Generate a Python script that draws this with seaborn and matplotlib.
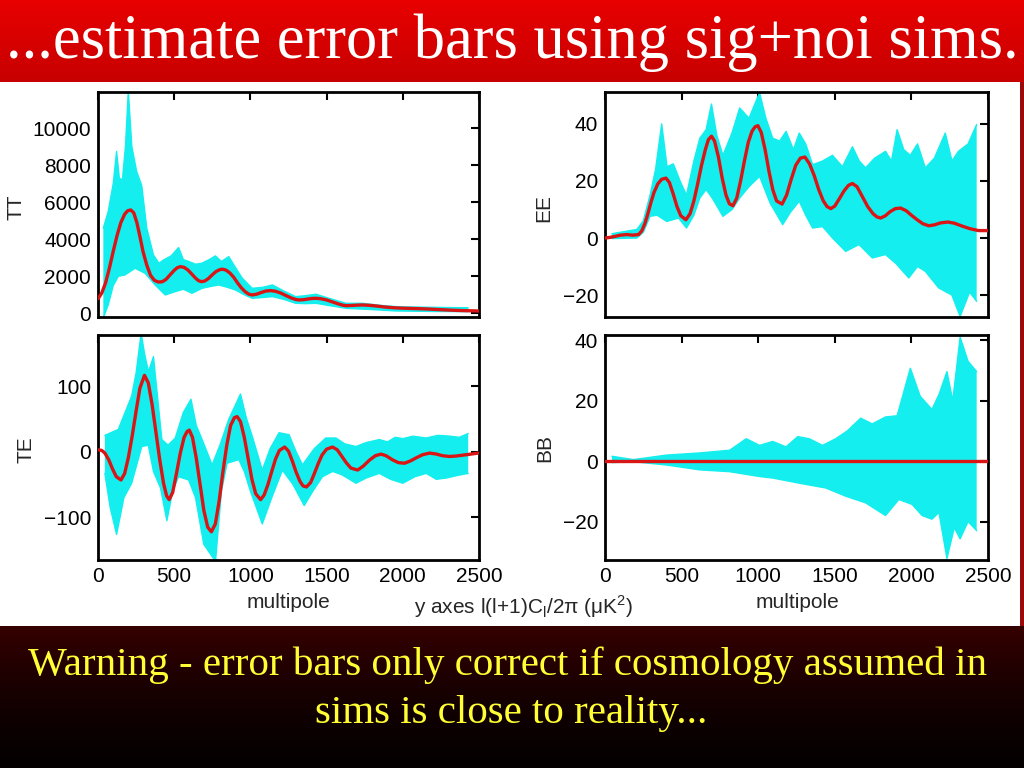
import numpy as np
import pandas as pd
import matplotlib
matplotlib.use("Agg")
import matplotlib.pyplot as plt
import seaborn as sns

# ---------------- data ----------------
TITLE = "...estimate error bars using sig+noi sims."
FOOT1 = "Warning - error bars only correct if cosmology assumed in"
FOOT2 = "sims is close to reality..."

# TT mean (red)
tt_mean_ell = [2, 25, 50, 75, 100, 125, 150, 175, 195, 215, 235, 255, 275, 295, 320, 345, 370, 395,
               420, 445, 470, 500, 520, 540, 565, 590, 615, 640, 660, 678, 700, 725, 750, 775, 800,
               818, 840, 865, 890, 915, 940, 965, 990, 1012, 1040, 1070, 1100, 1133, 1165, 1200,
               1235, 1270, 1300, 1319, 1350, 1380, 1410, 1430, 1460, 1500, 1540, 1580, 1610, 1627,
               1660, 1700, 1737, 1780, 1830, 1880, 1940, 2000, 2060, 2120, 2180, 2240, 2300, 2360,
               2420, 2500]
tt_mean = [800, 1100, 1650, 2450, 3350, 4200, 4900, 5350, 5540, 5580, 5420, 4900, 4150, 3350, 2600,
           2050, 1780, 1690, 1700, 1820, 2050, 2320, 2460, 2520, 2480, 2340, 2120, 1900, 1760, 1710,
           1740, 1880, 2080, 2260, 2360, 2380, 2330, 2180, 1950, 1650, 1380, 1170, 1030, 990, 1030,
           1120, 1200, 1225, 1190, 1090, 950, 820, 740, 720, 735, 775, 805, 810, 790, 720, 610, 500,
           430, 415, 420, 440, 450, 430, 390, 340, 300, 275, 260, 245, 225, 200, 175, 155, 140, 125]
# TT simulation envelope (cyan)
tt_hi_ell = [35, 67, 100, 122, 140, 160, 180, 199, 222, 254, 287, 320, 364, 400, 430, 480, 529, 560,
             595, 640, 680, 730, 770, 810, 858, 900, 946, 1012, 1080, 1145, 1220, 1297, 1360,
             1430, 1520, 1627, 1737, 1850, 1957, 2070, 2176, 2300, 2429]
tt_hi = [4600, 5500, 7000, 8740, 7300, 7200, 9000, 12000, 9000, 7650, 6900, 4600, 3150, 2700, 2880,
         3100, 3550, 2900, 2800, 2650, 2700, 2900, 3100, 2800, 3060, 2500, 1900, 1350, 1400, 1530,
         1200, 900, 950, 1030, 800, 540, 540, 430, 360, 340, 325, 310, 300]
tt_lo_ell = [35, 67, 100, 134, 177, 243, 309, 375, 441, 507, 560, 617, 683, 740, 792, 850, 902,
             960, 1012, 1080, 1145, 1220, 1297, 1360, 1430, 1530, 1627, 1800, 1957, 2200, 2429]
tt_lo = [-250, 450, 1500, 2000, 2070, 2430, 2160, 1530, 990, 1170, 1300, 1080, 1350, 1450, 1530,
         1400, 1260, 1000, 810, 850, 900, 750, 540, 520, 540, 400, 270, 200, 125, 100, 90]

# EE
ee_mean_ell = [0, 30, 60, 100, 143, 180, 219, 240, 260, 280, 300, 320, 345, 370, 398, 420, 445,
               470, 495, 528, 555, 580, 605, 630, 655, 675, 695, 715, 740, 765, 790, 812, 835, 860,
               885, 910, 935, 960, 980, 998, 1020, 1045, 1070, 1095, 1120, 1156, 1185, 1215, 1245,
               1275, 1305, 1335, 1365, 1395, 1425, 1450, 1474, 1500, 1530, 1560, 1590, 1615, 1645,
               1680, 1715, 1750, 1775, 1799, 1830, 1860, 1895, 1929, 1965, 2000, 2040, 2075, 2113,
               2150, 2190, 2238, 2280, 2330, 2380, 2437, 2500]
ee_mean = [0, 0.2, 0.5, 1.0, 1.2, 1.0, 1.2, 2.5, 5, 8.5, 12.5, 16, 19, 20.6, 21, 19.5, 15.5, 11,
           7.8, 6.4, 8.5, 13, 19, 25.5, 31, 34.5, 35.7, 34, 28.5, 21, 15, 12, 11.3, 14, 20, 27,
           33.5, 37.5, 39, 39.4, 37, 31, 23.5, 17, 13, 11.9, 15, 20.5, 25.5, 28, 28.4, 26, 22,
           17, 13, 11, 10.3, 11.2, 13.8, 16.5, 18.5, 19.1, 18, 14.5, 11, 8.5, 7.4, 7.0, 7.8, 9.2,
           10.3, 10.5, 9.6, 8.0, 6.3, 5, 4.3, 4.6, 5.3, 5.6, 5.2, 4.2, 3.3, 2.6, 2.6]
ee_hi_ell = [45, 208, 250, 294, 330, 370, 405, 446, 490, 532, 580, 619, 660, 695, 730, 770, 830,
             879, 940, 1009, 1050, 1095, 1140, 1182, 1230, 1268, 1310, 1355, 1420, 1485, 1550,
             1615, 1660, 1701, 1760, 1831, 1870, 1907, 1950, 1993, 2040, 2091, 2150, 2221, 2265,
             2307, 2370, 2426]
ee_hi = [1.5, 3, 6, 15, 24, 40, 25, 26, 20, 15, 27, 35, 38, 47, 36, 29, 37, 45.6, 42, 51, 42, 35,
         34, 37.4, 31, 36.8, 33, 25.7, 27, 29, 25, 32, 27, 24.6, 28, 30.4, 27, 38, 31, 29, 33,
         24.6, 28, 36.8, 27, 30.4, 33, 39.8]
ee_lo_ell = [45, 208, 250, 294, 340, 403, 480, 532, 580, 619, 660, 700, 770, 830, 879, 940, 1009,
             1080, 1160, 1210, 1268, 1310, 1355, 1420, 1485, 1571, 1658, 1745, 1831, 1900, 1983,
             2040, 2091, 2178, 2264, 2318, 2380, 2426]
ee_lo = [-0.2, 0, 2, 7.6, 8, 5.8, 7, 3.5, 8, 14, 17, 14, 7.6, 10, 14, 18, 21.6, 12, 4.7, 9, 12.9,
         8, 3.5, 4, 0, -4.7, -2.3, -7, -5.8, -9, -14, -10, -11.7, -17.5, -20, -27.5, -19, -22.2]

# TE
te_mean_ell = [0, 25, 45, 70, 95, 120, 151, 175, 200, 225, 250, 275, 305, 330, 355, 380, 405, 430,
               450, 467, 490, 515, 540, 565, 585, 599, 620, 645, 670, 695, 720, 744, 770, 795, 820,
               845, 870, 895, 913, 935, 960, 985, 1010, 1035, 1067, 1090, 1115, 1140, 1165, 1190,
               1225, 1250, 1275, 1300, 1325, 1345, 1368, 1395, 1420, 1445, 1470, 1500, 1539, 1570,
               1600, 1630, 1660, 1704, 1740, 1780, 1820, 1857, 1890, 1930, 1970, 2011, 2050, 2090,
               2130, 2176, 2220, 2260, 2307, 2350, 2400, 2450, 2494]
te_mean = [3, 2, -2, -12, -26, -38, -43, -33, -8, 25, 62, 97, 116.5, 105, 72, 30, -12, -48, -67,
           -73, -62, -33, -2, 22, 31, 33, 22, -10, -50, -90, -115, -122, -110, -75, -30, 10, 40,
           52, 53.6, 46, 22, -10, -42, -64, -73, -66, -50, -30, -11, 2, 7.2, 1, -14, -31, -45,
           -52, -53.6, -47, -33, -18, -5, 4, 7.2, 3, -7, -17, -25, -27.8, -22, -13, -6, -3.6, -6,
           -12, -16.5, -17.5, -14, -9, -4.5, -2, -3.5, -6, -7.2, -6.5, -5, -3.5, -2]
te_hi_ell = [45, 133, 221, 250, 283, 305, 331, 364, 419, 460, 507, 560, 610, 645, 683, 749, 800,
             858, 935, 975, 1012, 1078, 1130, 1188, 1254, 1300, 1342, 1420, 1495, 1561, 1620,
             1693, 1760, 1846, 1900, 1950, 2000, 2066, 2154, 2230, 2300, 2370, 2429]
te_hi = [25, 34, 85, 120, 181, 150, 122, 145, 18.6, 10, 21, 60, 80, 40, 18.6, -20, 10, 49.5, 88,
         50, 23.7, -28, 5, 29, 26, 0, -20, 5, 21, 21, 12, 8, 14, 18.6, 15, 22, 20, 23.7, 21, 25,
         24, 22, 27.8]
te_lo_ell = [45, 80, 122, 170, 221, 287, 330, 364, 410, 452, 490, 529, 595, 640, 694, 771, 810,
             847, 924, 960, 1000, 1078, 1140, 1210, 1280, 1353, 1410, 1473, 1540, 1600, 1693, 1760,
             1846, 1920, 2000, 2080, 2154, 2220, 2286, 2360, 2429]
te_lo = [-33, -85, -126, -70, -48, 8, 10, -30, -55, -105, -60, -38, -43, -70, -141, -167, -60,
         -17.5, -12, -30, -60, -110, -70, -28, -50, -82, -60, -38, -30, -35, -48, -40, -33, -42,
         -48, -38, -33, -42, -40, -36, -33]

# BB
bb_mean_ell = [0, 2500]
bb_mean = [0, 0]
bb_hi_ell = [45, 186, 403, 619, 814, 922, 1009, 1095, 1182, 1258, 1333, 1420, 1506, 1582, 1669,
             1745, 1831, 1907, 1993, 2058, 2134, 2180, 2232, 2270, 2318, 2370, 2426]
bb_hi = [1.6, 0.5, 2, 2.7, 3.6, 7.4, 5.2, 6.5, 4.7, 8.1, 7.4, 5.2, 7.4, 10, 14.2, 12.3, 14.6,
         15, 30.7, 21.4, 17.1, 22, 29.6, 20, 41, 33, 29.6]
bb_lo_ell = [45, 186, 403, 619, 814, 1009, 1095, 1268, 1442, 1571, 1701, 1831, 1918, 2004, 2070,
             2134, 2180, 2232, 2280, 2318, 2370, 2426]
bb_lo = [-0.5, -0.2, -1.3, -2.9, -3.5, -5.1, -5.6, -7.3, -8.9, -11.6, -13.8, -18, -12.7, -14.3,
         -18, -19.2, -17, -32.2, -22, -25.7, -20, -23]

x_ticks = [0, 500, 1000, 1500, 2000, 2500]
panels = {
    "TT": dict(mean=(tt_mean_ell, tt_mean), hi=(tt_hi_ell, tt_hi), lo=(tt_lo_ell, tt_lo),
               ylim=(-200, 11950), yticks=[0, 2000, 4000, 6000, 8000, 10000]),
    "EE": dict(mean=(ee_mean_ell, ee_mean), hi=(ee_hi_ell, ee_hi), lo=(ee_lo_ell, ee_lo),
               ylim=(-27.7, 51.2), yticks=[-20, 0, 20, 40]),
    "TE": dict(mean=(te_mean_ell, te_mean), hi=(te_hi_ell, te_hi), lo=(te_lo_ell, te_lo),
               ylim=(-165, 178), yticks=[-100, 0, 100]),
    "BB": dict(mean=(bb_mean_ell, bb_mean), hi=(bb_hi_ell, bb_hi), lo=(bb_lo_ell, bb_lo),
               ylim=(-32.7, 41.7), yticks=[-20, 0, 20, 40]),
}

# ---------------- style ----------------
sns.set_theme(style="white")
plt.rcParams['font.family'] = ['Liberation Sans', 'DejaVu Sans']
plt.rcParams['axes.unicode_minus'] = True

W, H = 1024, 768
fig = plt.figure(figsize=(W / 100, H / 100), dpi=100)
fig.patch.set_facecolor("white")

# background bands
bg = fig.add_axes([0, 0, 1, 1], zorder=-5)
bg.set_xlim(0, W)
bg.set_ylim(H, 0)
bg.axis("off")
top_grad = np.linspace(0, 1, 64)[:, None]
top_rgb = np.zeros((64, 2, 3))
top_rgb[..., 0] = (0.91 - 0.13 * top_grad)
bg.imshow(top_rgb, extent=(0, W, 82, 0), aspect="auto", interpolation="bilinear")
bot_grad = np.linspace(0, 1, 64)[:, None]
bot_rgb = np.zeros((64, 2, 3))
bot_rgb[..., 0] = 0.19 * (1 - bot_grad) ** 1.5 + 0.02
bg.imshow(bot_rgb, extent=(0, W, H, 626), aspect="auto", interpolation="bilinear")
bg.add_patch(plt.Rectangle((1020, 82), 4, 544, color="#9a0a0a", lw=0))

CYAN = "#14EEEE"
RED = "#DA1515"

def px_axes(x0, y0, x1, y1):
    return fig.add_axes([x0 / W, 1 - y1 / H, (x1 - x0) / W, (y1 - y0) / H])

boxes = {"TT": (98, 92, 479, 317), "EE": (605, 92, 988, 317),
         "TE": (98, 335, 479, 560), "BB": (605, 335, 988, 560)}

for name, p in panels.items():
    ax = px_axes(*boxes[name])
    hx, hy = p["hi"]
    lx, ly = p["lo"]
    ax.fill(list(hx) + list(lx)[::-1], list(hy) + list(ly)[::-1], color=CYAN, lw=0, zorder=1)
    sns.lineplot(x=hx, y=hy, ax=ax, color=CYAN, lw=1.0, estimator=None, sort=False, zorder=2)
    sns.lineplot(x=lx, y=ly, ax=ax, color=CYAN, lw=1.0, estimator=None, sort=False, zorder=2)
    mx, my = p["mean"]
    sns.lineplot(x=mx, y=my, ax=ax, color=RED, lw=2.4, estimator=None, sort=False, zorder=3)
    ax.set_xlim(0, 2500)
    ax.set_ylim(*p["ylim"])
    ax.set_xticks(x_ticks)
    ax.set_yticks(p["yticks"])
    ax.set_xlabel("")
    ax.set_ylabel("")
    ax.tick_params(direction="in", length=6, width=1.5, top=True, right=True,
                   labelsize=15, pad=5, colors="black")
    if name in ("TT", "EE"):
        ax.set_xticklabels([])
    for s in ax.spines.values():
        s.set_linewidth(2)
        s.set_color("black")
    ax.set_facecolor("white")

def ftext(x, y, s, **kw):
    fig.text(x / W, 1 - y / H, s, ha="center", va="center", **kw)

ftext(16, 207, "TT", fontsize=15, rotation=90)
ftext(544, 208, "EE", fontsize=15, rotation=90)
ftext(26, 450, "TE", fontsize=15, rotation=90)
ftext(545, 448, "BB", fontsize=15, rotation=90)
ftext(288, 602, "multipole", fontsize=15)
ftext(797, 602, "multipole", fontsize=15)
ftext(524, 607, "y axes l(l+1)C$_\\mathregular{l}$/2π (μK$^\\mathregular{2}$)", fontsize=15)

serif = ["Liberation Serif", "DejaVu Serif"]
ftext(512, 43, TITLE, fontsize=45, color="white", family=serif)
ftext(508, 665, FOOT1, fontsize=29.5, color="#FFFF33", family=serif)
ftext(511, 713, FOOT2, fontsize=29.5, color="#FFFF33", family=serif)

fig.savefig("out.png", dpi=100)
